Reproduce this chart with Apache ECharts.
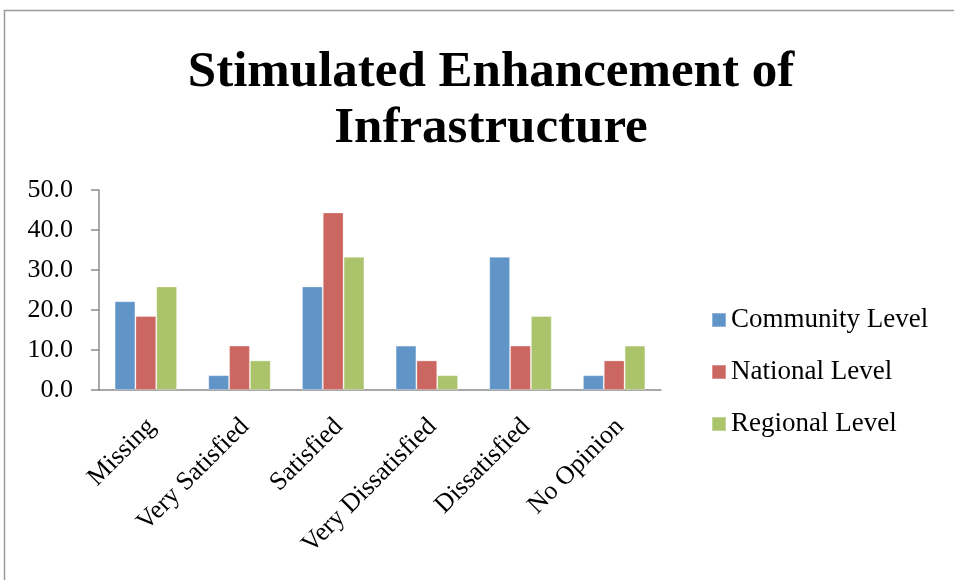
<!DOCTYPE html>
<html>
<head>
<meta charset="utf-8">
<title>Stimulated Enhancement of Infrastructure</title>
<script src="https://cdn.jsdelivr.net/npm/echarts@6/dist/echarts.min.js"></script>
<style>
  html, body { margin: 0; padding: 0; background: #ffffff; }
  #chart { width: 954px; height: 580px; }
</style>
</head>
<body>
<div id="chart"></div>
<script>
// Survey responses (percent of respondents) by level
const categories = ['Missing', 'Very Satisfied', 'Satisfied', 'Very Dissatisfied', 'Dissatisfied', 'No Opinion'];
const seriesNames = ['Community Level', 'National Level', 'Regional Level'];
const communityLevel = [22.2, 3.7, 25.9, 11.1, 33.3, 3.7];
const nationalLevel = [18.5, 11.1, 44.4, 7.4, 11.1, 7.4];
const regionalLevel = [25.9, 7.4, 33.3, 3.7, 18.5, 11.1];
const yTicks = { min: 0, max: 50, interval: 10 };

const colors = ['#6195C8', '#CC6660', '#ABC46B'];
const serif = '"Liberation Serif", "DejaVu Serif", serif';

const chart = echarts.init(document.getElementById('chart'), null, { renderer: 'canvas' });

const values = [communityLevel, nationalLevel, regionalLevel];

chart.setOption({
  backgroundColor: '#ffffff',
  animation: false,
  color: colors,
  title: {
    text: 'Stimulated Enhancement of\nInfrastructure',
    left: 486,
    top: 40,
    textAlign: 'center',
    textStyle: {
      fontFamily: serif,
      fontWeight: 'bold',
      fontSize: 51,
      lineHeight: 56,
      color: '#000000'
    }
  },
  legend: {
    orient: 'vertical',
    left: 711,
    top: 306,
    padding: 0,
    itemWidth: 14,
    itemHeight: 14,
    itemGap: 24,
    icon: 'rect',
    data: seriesNames,
    textStyle: {
      fontFamily: serif,
      fontSize: 27,
      lineHeight: 28,
      color: '#000000'
    }
  },
  grid: {
    left: 99,
    right: 293,
    top: 190,
    bottom: 190,
    containLabel: false
  },
  xAxis: {
    type: 'category',
    data: categories,
    axisLine: { lineStyle: { color: '#8C8C8C', width: 1.5 } },
    axisTick: { show: false },
    axisLabel: {
      interval: 0,
      rotate: 45,
      margin: 27,
      verticalAlign: 'top',
      lineHeight: 16,
      fontFamily: serif,
      fontSize: 26,
      color: '#000000'
    }
  },
  yAxis: {
    type: 'value',
    min: yTicks.min,
    max: yTicks.max,
    interval: yTicks.interval,
    axisLine: { show: true, lineStyle: { color: '#8C8C8C', width: 1.5 } },
    axisTick: { show: true, length: 8, lineStyle: { color: '#8C8C8C', width: 1.5 } },
    splitLine: { show: false },
    axisLabel: {
      margin: 26,
      fontFamily: serif,
      fontSize: 26,
      color: '#000000',
      formatter: v => v.toFixed(1)
    }
  },
  series: seriesNames.map((name, i) => ({
    name: name,
    type: 'bar',
    data: values[i],
    barGap: '0%',
    barCategoryGap: '33.3%',
    itemStyle: {
      color: colors[i],
      borderColor: 'rgba(255,255,255,0.3)',
      borderWidth: 1
    }
  })),
  graphic: [{
    type: 'rect',
    silent: true,
    z: -1,
    shape: { x: 4.5, y: 10.5, width: 1000, height: 1000 },
    style: { fill: null, stroke: '#9A9A9A', lineWidth: 1.5 }
  }]
});
</script>
</body>
</html>
